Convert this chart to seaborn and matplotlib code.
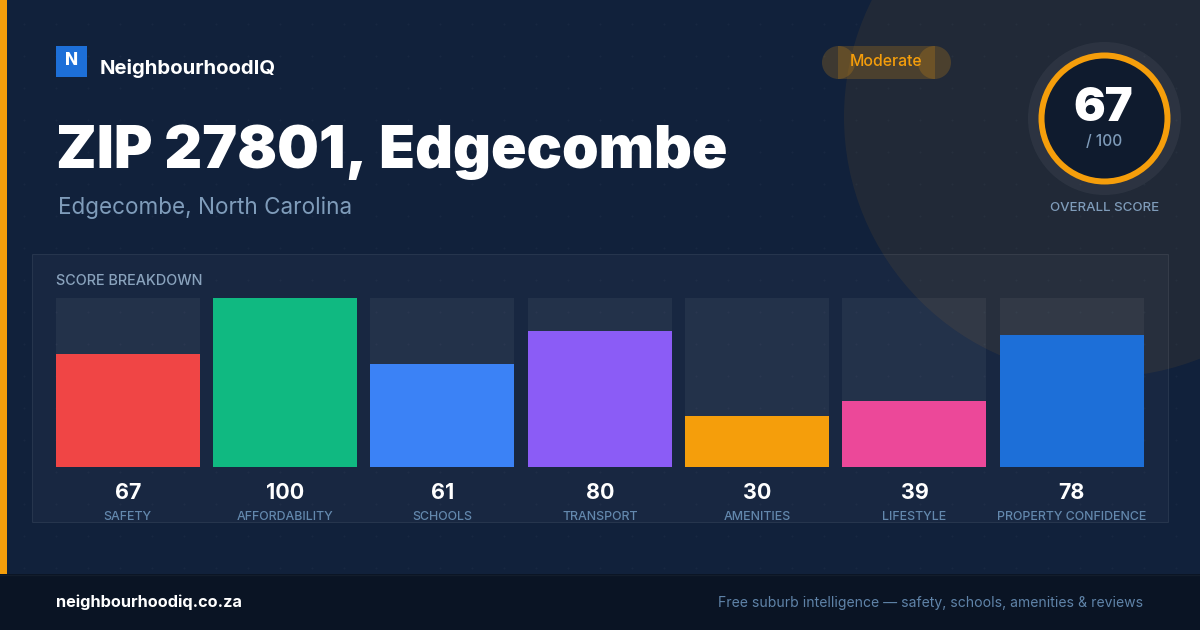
import numpy as np
import pandas as pd
import matplotlib
matplotlib.use("Agg")
import matplotlib.pyplot as plt
from matplotlib.patches import Rectangle, Circle
import seaborn as sns

categories = ["SAFETY", "AFFORDABILITY", "SCHOOLS", "TRANSPORT", "AMENITIES", "LIFESTYLE", "PROPERTY CONFIDENCE"]
scores = [67, 100, 61, 80, 30, 39, 78]
bar_colors = ["#f04545", "#10b981", "#3b82f6", "#8b5cf6", "#f59e0b", "#ec4899", "#1d6fd8"]
track_max = [100] * 7

sns.set_theme(style="white")
plt.rcParams["font.family"] = ["Inter", "DejaVu Sans"]
W, H = 1200, 630
PT = 0.72
fig = plt.figure(figsize=(12, 6.3), dpi=100)

bg = fig.add_axes([0, 0, 1, 1], zorder=0)
bg.set_xlim(0, W); bg.set_ylim(H, 0); bg.axis("off")
bg.add_patch(Rectangle((0, 0), W, H, fc="#11213b", lw=0, zorder=0))

dx, dy = np.meshgrid(np.arange(24, W, 32), np.arange(24, H, 32))
bg.scatter(dx.ravel(), dy.ravel(), s=2.2, color="white", alpha=0.03, linewidths=0, zorder=1)
bg.add_patch(Circle((1104, 117), 260, fc="#f59e0b", alpha=0.07, lw=0, zorder=2))
bg.add_patch(Rectangle((0, 0), 7, H, fc="#f59e0b", lw=0, zorder=5))
bg.add_patch(Rectangle((32, 254), 1136, 268, fc=(1, 1, 1, 0.03), ec=(1, 1, 1, 0.08), lw=0.8, zorder=3))
bg.add_patch(Rectangle((0, 574), W, 56, fc="#0a1424", lw=0, zorder=5))
bg.plot([0, W], [574.5, 574.5], color=(1, 1, 1, 0.04), lw=1, zorder=6)

# logo
bg.add_patch(Rectangle((56, 46), 31, 31, fc="#1d6fd8", lw=0, zorder=6))
bg.text(71, 60.5, "N", color="white", fontsize=17 * PT, fontweight="heavy", ha="center", va="center", zorder=7)
bg.text(100, 68.5, "NeighbourhoodIQ", color="white", fontsize=20.3 * PT, fontweight="bold", ha="left", va="center", zorder=7)
bg.text(56.5, 152, "ZIP 27801, Edgecombe", color="white", fontsize=58.8 * PT, fontweight=900, ha="left", va="center", zorder=7)
bg.text(58, 208, "Edgecombe, North Carolina", color="#7f9cba", fontsize=22.5 * PT, ha="left", va="center", zorder=7)

# badge
for patch in (Rectangle((838, 46), 97, 33), Circle((838.5, 62.5), 16.5), Circle((934.5, 62.5), 16.5)):
    patch.set(fc="#f59e0b", alpha=0.2, lw=0, zorder=6)
    bg.add_patch(patch)
bg.text(886.5, 62, "Moderate", color="#f59e0b", fontsize=15.8 * PT, fontweight="medium", ha="center", va="center", zorder=7)

# gauge
bg.add_patch(Circle((1104.5, 118.5), 76.5, fc=(1, 1, 1, 0.05), lw=0, zorder=6))
bg.add_patch(Circle((1104.5, 118.5), 63, fc="#0f1b2e", ec="#f59e0b", lw=6 * PT, zorder=7))
bg.text(1103, 109, "67", color="white", fontsize=47 * PT, fontweight=900, ha="center", va="center", zorder=8)
bg.text(1104.5, 141, "/ 100", color="#7f9cba", fontsize=15.5 * PT, fontweight="medium", ha="center", va="center", zorder=8)
bg.text(1104.5, 208, "OVERALL SCORE", color="#7f9cba", fontsize=13.3 * PT, fontweight="medium", ha="center", va="center", zorder=8)

bg.text(56, 281, "SCORE BREAKDOWN", color="#8aa3bd", fontsize=14.4 * PT, fontweight="medium", ha="left", va="center", zorder=8)

# footer
bg.text(56, 602.5, "neighbourhoodiq.co.za", color="white", fontsize=16.3 * PT, fontweight="bold", ha="left", va="center", zorder=8)
bg.text(1143, 602.5, "Free suburb intelligence \u2014 safety, schools, amenities & reviews", color="#5f83a8",
        fontsize=14 * PT, ha="right", va="center", zorder=8)

# bars
ax = fig.add_axes([55.8 / W, 1 - 467 / H, (1144 - 56) / W, (467.4 - 298) / H], zorder=2)
ax.patch.set_alpha(0)
df = pd.DataFrame({"category": categories, "score": scores, "track": track_max})
bar_w = 144 / (944 / 6)
sns.barplot(data=df, x="category", y="track", color="white", alpha=0.05, width=bar_w, saturation=1, ax=ax,
            legend=False, linewidth=0)
sns.barplot(data=df, x="category", y="score", hue="category", palette=bar_colors, width=bar_w, saturation=1,
            ax=ax, legend=False, dodge=False, linewidth=0)
ax.set_xlim(-bar_w / 2, 6 + bar_w / 2)
ax.set_ylim(0, 100)
ax.axis("off")
for i, (cat, val) in enumerate(zip(categories, scores)):
    ax.annotate(str(val), (i, 0), xytext=(0, -26 * PT), textcoords="offset points", color="white",
                fontsize=21.5 * PT, fontweight="bold", ha="center", va="center", annotation_clip=False)
    ax.annotate(cat, (i, 0), xytext=(0, -49.5 * PT), textcoords="offset points", color="#6388ad",
                fontsize=12.4 * PT, fontweight="medium", ha="center", va="center", annotation_clip=False)

fig.savefig("out.png", dpi=100)
